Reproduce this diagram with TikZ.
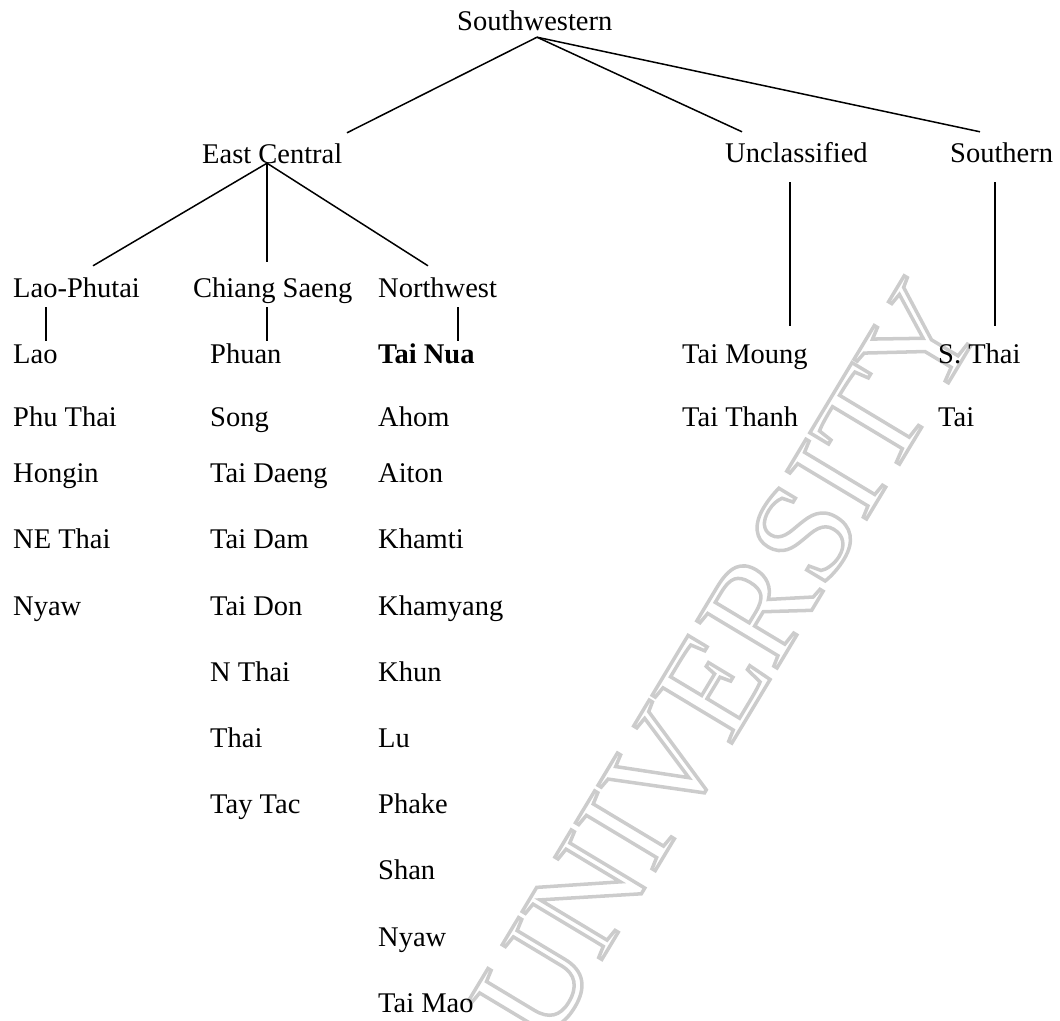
\documentclass[tikz,border=0pt]{standalone}
\usepackage{fontspec}
\setmainfont{Liberation Serif}
\begin{document}
\begin{tikzpicture}[x=1pt,y=-1pt,
  lbl/.style={anchor=base west,inner sep=0pt,text height=20pt,text depth=6pt,
    font=\fontsize{28.5}{34}\selectfont},
  conn/.style={draw=black,line width=1.5pt},
  wmark/.style={inner sep=0pt,rotate=59,font=\fontsize{142}{150}\selectfont,text=black!20}]
\useasboundingbox (0,0) rectangle (1060,1020);
% watermark
\node[wmark] (wm) at (727,662) {\special{pdf:literal direct 1 Tr 3.5 w 0.8 G}UNIVERSITY\special{pdf:literal direct 0 Tr 0 G}};
% level 0-1
\node[lbl] (sw) at (457,30) {Southwestern};
\node[lbl] (ec) at (202,163) {East Central};
\node[lbl] (un) at (725,162) {Unclassified};
\node[lbl] (so) at (950,162) {Southern};
% level 2
\node[lbl] (lp) at (13,297) {Lao-Phutai};
\node[lbl] (cs) at (193,297) {Chiang Saeng};
\node[lbl] (nw) at (378,297) {Northwest};
% column 1
\node[lbl] (lao) at (13,363) {Lao};
\node[lbl] (phuthai) at (13,426) {Phu Thai};
\node[lbl] (hongin) at (13,482) {Hongin};
\node[lbl] (nethai) at (13,548) {NE Thai};
\node[lbl] (nyawa) at (13,615) {Nyaw};
% column 2
\node[lbl] (phuan) at (210,363) {Phuan};
\node[lbl] (song) at (210,426) {Song};
\node[lbl] (taidaeng) at (210,482) {Tai Daeng};
\node[lbl] (taidam) at (210,548) {Tai Dam};
\node[lbl] (taidon) at (210,615) {Tai Don};
\node[lbl] (nthai) at (210,681) {N Thai};
\node[lbl] (thai) at (210,747) {Thai};
\node[lbl] (taytac) at (210,813) {Tay Tac};
% column 3
\node[lbl,font=\fontsize{28.5}{34}\selectfont\bfseries] (tainua) at (378,363) {Tai Nua};
\node[lbl] (ahom) at (378,426) {Ahom};
\node[lbl] (aiton) at (378,482) {Aiton};
\node[lbl] (khamti) at (378,548) {Khamti};
\node[lbl] (khamyang) at (378,615) {Khamyang};
\node[lbl] (khun) at (378,681) {Khun};
\node[lbl] (lu) at (378,747) {Lu};
\node[lbl] (phake) at (378,813) {Phake};
\node[lbl] (shan) at (378,879) {Shan};
\node[lbl] (nyawb) at (378,946) {Nyaw};
\node[lbl] (taimao) at (378,1012) {Tai Mao};
% unclassified column
\node[lbl] (taimoung) at (682,363) {Tai Moung};
\node[lbl] (taithanh) at (682,426) {Tai Thanh};
% southern column
\node[lbl] (sthai) at (938,363) {S. Thai};
\node[lbl] (tai) at (938,426) {Tai};
% connectors
\draw[conn] ([shift={(80,1)}]sw.south west) -- ([shift={(145,-10)}]ec.north west);
\draw[conn] ([shift={(80,1)}]sw.south west) -- ([shift={(17,-10)}]un.north west);
\draw[conn] ([shift={(80,1)}]sw.south west) -- ([shift={(30,-10)}]so.north west);
\draw[conn] ([shift={(65,-6)}]ec.south west) -- ([shift={(80,-11)}]lp.north west);
\draw[conn] ([shift={(65,-6)}]ec.south west) -- ([shift={(74,-15)}]cs.north west);
\draw[conn] ([shift={(65,-6)}]ec.south west) -- ([shift={(50,-11)}]nw.north west);
\draw[conn] ([shift={(33,4)}]lp.south west) -- ([shift={(33,-2)}]lao.north west);
\draw[conn] ([shift={(74,4)}]cs.south west) -- ([shift={(57,-2)}]phuan.north west);
\draw[conn] ([shift={(80,4)}]nw.south west) -- ([shift={(80,-2)}]tainua.north west);
\draw[conn] ([shift={(65,14)}]un.south west) -- ([shift={(108,-17)}]taimoung.north west);
\draw[conn] ([shift={(45,14)}]so.south west) -- ([shift={(57,-17)}]sthai.north west);
\end{tikzpicture}
\end{document}
